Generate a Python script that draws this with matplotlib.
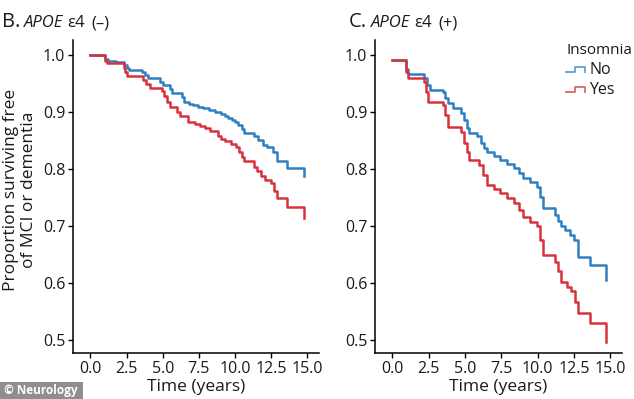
import matplotlib
matplotlib.use("Agg")
import matplotlib.pyplot as plt
from matplotlib.lines import Line2D
from matplotlib.legend_handler import HandlerBase
from matplotlib.patches import Rectangle

plt.rcParams['font.family'] = ['Open Sans', 'DejaVu Sans']

# ---- data ----
# Panel B: APOE e4 (-)
b_no_time = [0.0, 1.0, 1.2, 1.75, 2.3, 2.5, 2.65, 3.56, 3.75, 4.0, 4.82, 5.0, 5.5, 5.65, 6.3,
             6.5, 6.8, 7.1, 7.45, 7.8, 8.2, 8.6, 9.0, 9.3, 9.5, 9.8, 10.0, 10.2, 10.5, 10.65,
             11.3, 11.6, 11.9, 12.2, 12.6, 12.9, 13.6, 14.75]
b_no_surv = [1.0, 0.993, 0.989, 0.987, 0.982, 0.977, 0.974, 0.970, 0.964, 0.959, 0.953, 0.947,
             0.940, 0.933, 0.926, 0.918, 0.914, 0.912, 0.909, 0.907, 0.904, 0.900, 0.896, 0.892,
             0.889, 0.886, 0.882, 0.877, 0.870, 0.863, 0.857, 0.850, 0.842, 0.838, 0.830, 0.813,
             0.802, 0.787]
b_yes_time = [0.0, 1.0, 1.15, 2.3, 2.4, 2.55, 3.67, 3.85, 4.13, 4.93, 5.1, 5.3, 5.5, 5.96, 6.2,
              6.76, 7.2, 7.55, 7.9, 8.3, 8.81, 9.0, 9.27, 9.7, 10.07, 10.3, 10.5, 10.64, 11.3,
              11.5, 11.78, 12.1, 12.47, 12.7, 12.92, 13.6, 14.75]
b_yes_surv = [1.0, 0.990, 0.985, 0.977, 0.970, 0.962, 0.956, 0.949, 0.942, 0.936, 0.927, 0.918,
              0.909, 0.900, 0.892, 0.883, 0.879, 0.875, 0.871, 0.866, 0.857, 0.853, 0.848, 0.844,
              0.839, 0.830, 0.820, 0.813, 0.804, 0.796, 0.787, 0.781, 0.775, 0.762, 0.749, 0.733,
              0.713]

# Panel C: APOE e4 (+)
c_no_time = [0.0, 0.95, 1.1, 2.2, 2.35, 2.6, 3.45, 3.6, 3.8, 4.2, 4.7, 4.9, 5.1, 5.27, 5.84,
             6.1, 6.3, 6.52, 7.0, 7.43, 7.9, 8.34, 8.7, 9.02, 9.5, 9.93, 10.15, 10.38, 11.18,
             11.4, 11.63, 11.9, 12.2, 12.5, 12.77, 13.57, 14.7]
c_no_surv = [0.991, 0.975, 0.966, 0.959, 0.947, 0.938, 0.934, 0.925, 0.915, 0.906, 0.898, 0.885,
             0.872, 0.863, 0.857, 0.845, 0.836, 0.830, 0.823, 0.816, 0.808, 0.801, 0.793, 0.784,
             0.777, 0.769, 0.750, 0.731, 0.719, 0.709, 0.699, 0.692, 0.684, 0.676, 0.646, 0.632,
             0.605]
c_yes_time = [0.0, 0.95, 1.1, 2.2, 2.3, 2.45, 3.45, 3.6, 3.8, 4.7, 4.9, 5.1, 5.27, 5.95, 6.2,
              6.5, 7.0, 7.43, 7.9, 8.34, 8.7, 9.02, 9.5, 9.93, 10.15, 10.38, 11.18, 11.4, 11.63,
              12.0, 12.3, 12.55, 12.8, 13.57, 14.7]
c_yes_surv = [0.991, 0.970, 0.959, 0.953, 0.935, 0.918, 0.912, 0.895, 0.874, 0.865, 0.845, 0.830,
              0.816, 0.807, 0.790, 0.772, 0.764, 0.757, 0.748, 0.740, 0.728, 0.716, 0.707, 0.699,
              0.675, 0.649, 0.637, 0.620, 0.602, 0.593, 0.585, 0.566, 0.547, 0.529, 0.497]

x_ticks = [0.0, 2.5, 5.0, 7.5, 10.0, 12.5, 15.0]
y_ticks = [0.5, 0.6, 0.7, 0.8, 0.9, 1.0]
groups = ["No", "Yes"]
legend_title = "Insomnia"

BLUE = "#2f7fc1"
RED = "#d8323c"
TXT = "#1a1a1a"

W, H = 634, 399
fig = plt.figure(figsize=(W / 100, H / 100), dpi=100)


def px_rect(l, t, r, b):
    return [l / W, 1 - b / H, (r - l) / W, (b - t) / H]


ax_b = fig.add_axes(px_rect(73, 40, 319, 353))
ax_c = fig.add_axes(px_rect(375, 40, 622, 353))

for ax, (t_no, s_no, t_yes, s_yes) in [
    (ax_b, (b_no_time, b_no_surv, b_yes_time, b_yes_surv)),
    (ax_c, (c_no_time, c_no_surv, c_yes_time, c_yes_surv)),
]:
    ax.step(t_no, s_no, where='post', color=BLUE, lw=1.8, label=groups[0])
    ax.step(t_yes, s_yes, where='post', color=RED, lw=1.8, label=groups[1])
    ax.set_xlim(-1.2, 15.8)
    ax.set_ylim(0.477, 1.026)
    ax.set_xticks(x_ticks)
    ax.set_xticklabels([f"{v:.1f}" for v in x_ticks])
    ax.set_yticks(y_ticks)
    ax.set_yticklabels([f"{v:.1f}" for v in y_ticks])
    for s in ['top', 'right']:
        ax.spines[s].set_visible(False)
    for s in ['left', 'bottom']:
        ax.spines[s].set_linewidth(1.1)
        ax.spines[s].set_color('black')
    ax.tick_params(axis='both', length=3.5, width=1.0, color='black',
                   labelsize=11.5, labelcolor=TXT, pad=2)
    ax.set_xlabel("Time (years)", fontsize=12.5, labelpad=2, color=TXT)

fig.text(20 / W, 1 - 190 / H, "Proportion surviving free\nof MCI or dementia",
         rotation=90, ha='center', va='center', fontsize=12.5, color=TXT,
         multialignment='center', linespacing=1.1)

renderer = fig.canvas.get_renderer()


def title(x0, parts):
    y = 1 - 27 / H
    x = x0
    for text, gap, kw in parts:
        t = fig.text(x / W, y, text, va='baseline', ha='left', color=TXT, **kw)
        bb = t.get_window_extent(renderer)
        x += bb.width + gap


title(2, [("B.", 4, dict(fontsize=14.5)),
          ("APOE", 4, dict(fontsize=12, style='italic')),
          ("ε4", 6, dict(fontsize=12)),
          ("(–)", 0, dict(fontsize=12))])
title(349, [("C.", 4, dict(fontsize=14.5)),
            ("APOE", 4, dict(fontsize=12, style='italic')),
            ("ε4", 6, dict(fontsize=12)),
            ("(+)", 0, dict(fontsize=12))])


class StepHandler(HandlerBase):
    def create_artists(self, legend, orig_handle, xdescent, ydescent, width, height,
                       fontsize, trans):
        x0, y0 = -xdescent, -ydescent
        xs = [x0, x0 + 0.45 * width, x0 + 0.45 * width, x0 + width, x0 + width]
        ys = [y0 + 0.15 * height, y0 + 0.15 * height, y0 + 0.6 * height,
              y0 + 0.6 * height, y0 + 0.2 * height]
        ln = Line2D(xs, ys, color=orig_handle.get_color(), lw=1.3, alpha=0.75)
        ln.set_transform(trans)
        return [ln]


handles = [Line2D([], [], color=BLUE), Line2D([], [], color=RED)]
leg = fig.legend(handles, groups, title=legend_title, loc='upper left',
                 bbox_to_anchor=(566 / W, 1 - 43 / H), frameon=False,
                 handler_map={Line2D: StepHandler()}, fontsize=11.5,
                 title_fontsize=11, handlelength=1.2, handletextpad=0.25,
                 labelspacing=0.25, borderpad=0, borderaxespad=0)
leg._legend_box.align = "left"
for t in leg.get_texts():
    t.set_color(TXT)
leg.get_title().set_color(TXT)

# watermark
fig.patches.append(Rectangle((0, 0), 83 / W, 17 / H, transform=fig.transFigure,
                             facecolor='#8f8f8f', edgecolor='none'))
fig.text(4 / W, 8.5 / H, "© Neurology", color='white', fontsize=8.5, fontweight='bold',
         va='center', ha='left')

fig.savefig("out.png", dpi=100)
